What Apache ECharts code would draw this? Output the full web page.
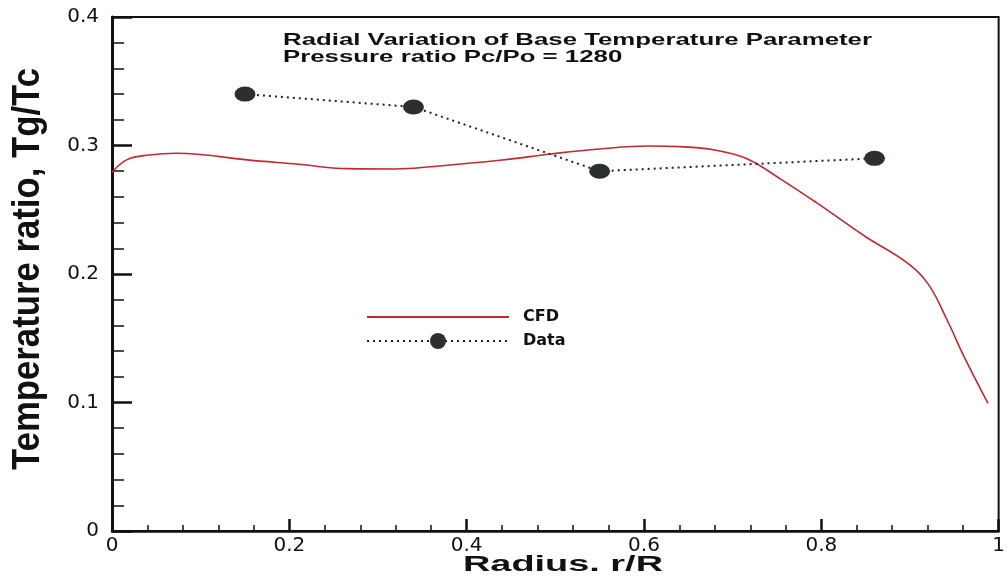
<!DOCTYPE html>
<html>
<head>
<meta charset="utf-8">
<script src="https://cdn.jsdelivr.net/npm/echarts@6/dist/echarts.min.js"></script>
<style>
html,body{margin:0;padding:0;background:#fff;}
#chart{width:1008px;height:582px;}
</style>
</head>
<body>
<div id="chart"></div>
<script>
// ---- data ----
const cfdX = [0, 0.017, 0.042, 0.072, 0.1, 0.15, 0.21, 0.265, 0.32, 0.36, 0.44, 0.495, 0.55, 0.605, 0.64, 0.68, 0.715, 0.755, 0.795, 0.85, 0.895, 0.92, 0.942, 0.961, 0.988];
const cfdY = [0.279, 0.289, 0.2926, 0.294, 0.293, 0.289, 0.2854, 0.282, 0.2817, 0.2835, 0.2887, 0.2934, 0.2973, 0.2996, 0.2991, 0.2965, 0.29, 0.2735, 0.2553, 0.229, 0.2096, 0.1927, 0.164, 0.1357, 0.0994];
const dataX = [0.15, 0.34, 0.55, 0.86];
const dataY = [0.34, 0.33, 0.28, 0.29];
const seriesNames = ['CFD', 'Data'];
const titleLines = ['Radial Variation of Base Temperature Parameter', 'Pressure ratio Pc/Po = 1280'];
const xTitle = 'Radius. r/R';
const yTitle = 'Temperature ratio, Tg/Tc';

function textScale(text, font, target) {
  const ctx = document.createElement('canvas').getContext('2d');
  ctx.font = font;
  return target / ctx.measureText(text).width;
}

const titleFont = 'bold 16.5px "Liberation Sans", Arial, sans-serif';
const titleScale = textScale(titleLines[0], titleFont, 589);
const xTitleFont = 'bold 22px "Liberation Sans", Arial, sans-serif';
const xTitleScale = textScale(xTitle, xTitleFont, 200);
const yTitleFont = 'bold 38px "Liberation Sans Narrow", "Liberation Sans", Arial, sans-serif';
const yTitleScale = textScale(yTitle, yTitleFont, 402);

const chart = echarts.init(document.getElementById('chart'));
const labelFont = { fontFamily: '"DejaVu Sans", sans-serif', fontSize: 20, color: '#111' };

chart.setOption({
  animation: false,
  backgroundColor: '#fff',
  grid: { left: 112, top: 17, right: -4, bottom: 51, show: true, borderColor: '#111', borderWidth: 2, backgroundColor: 'transparent' },
  legend: {
    left: 361, top: 304, orient: 'vertical', itemWidth: 142, itemHeight: 20, itemGap: 8,
    textStyle: { fontFamily: '"DejaVu Sans", sans-serif', fontWeight: 'bold', fontSize: 16, color: '#111', padding: [0, 0, 0, 9] },
    data: [{ name: seriesNames[0], itemStyle: { opacity: 0 } }, { name: seriesNames[1] }]
  },
  xAxis: {
    type: 'value', min: 0, max: 1, interval: 0.2,
    axisLine: { lineStyle: { color: '#111', width: 2.5 } },
    axisTick: { inside: true, length: 12, lineStyle: { color: '#111', width: 2.5 } },
    minorTick: { show: true, splitNumber: 5, length: 6, lineStyle: { color: '#111', width: 1.5 } },
    splitLine: { show: false },
    axisLabel: Object.assign({ margin: 5 }, labelFont)
  },
  yAxis: {
    type: 'value', min: 0, max: 0.4, interval: 0.1,
    axisLine: { show: true, lineStyle: { color: '#111', width: 3 } },
    axisTick: { show: true, inside: true, length: 20, lineStyle: { color: '#111', width: 2.5 } },
    minorTick: { show: true, splitNumber: 5, length: 12, lineStyle: { color: '#111', width: 1.5 } },
    splitLine: { show: false },
    axisLabel: Object.assign({ margin: 13 }, labelFont)
  },
  graphic: [
    { type: 'text', x: 283, y: 32, scaleX: titleScale, style: { text: titleLines.join('\n'), font: titleFont, lineHeight: 17, fill: '#111', align: 'left', verticalAlign: 'top' } },
    { type: 'text', x: 563, y: 565, scaleX: xTitleScale, style: { text: xTitle, font: xTitleFont, fill: '#111', align: 'center', verticalAlign: 'middle' } },
    { type: 'text', x: 29, y: 269, rotation: Math.PI / 2, scaleX: yTitleScale, style: { text: yTitle, font: yTitleFont, fill: '#111', align: 'center', verticalAlign: 'middle' } }
  ],
  series: [
    {
      name: seriesNames[0], type: 'line', smooth: 0.4, symbol: 'none',
      data: cfdX.map((x, i) => [x, cfdY[i]]),
      lineStyle: { color: '#c5282e', width: 1.6 },
      itemStyle: { color: '#c5282e' }
    },
    {
      name: seriesNames[1], type: 'line', symbol: 'circle', symbolSize: [21, 15],
      data: dataX.map((x, i) => [x, dataY[i]]),
      lineStyle: { color: '#222', width: 2, type: [2, 4] },
      itemStyle: { color: '#2b2f2d' }
    }
  ]
});
</script>
</body>
</html>
